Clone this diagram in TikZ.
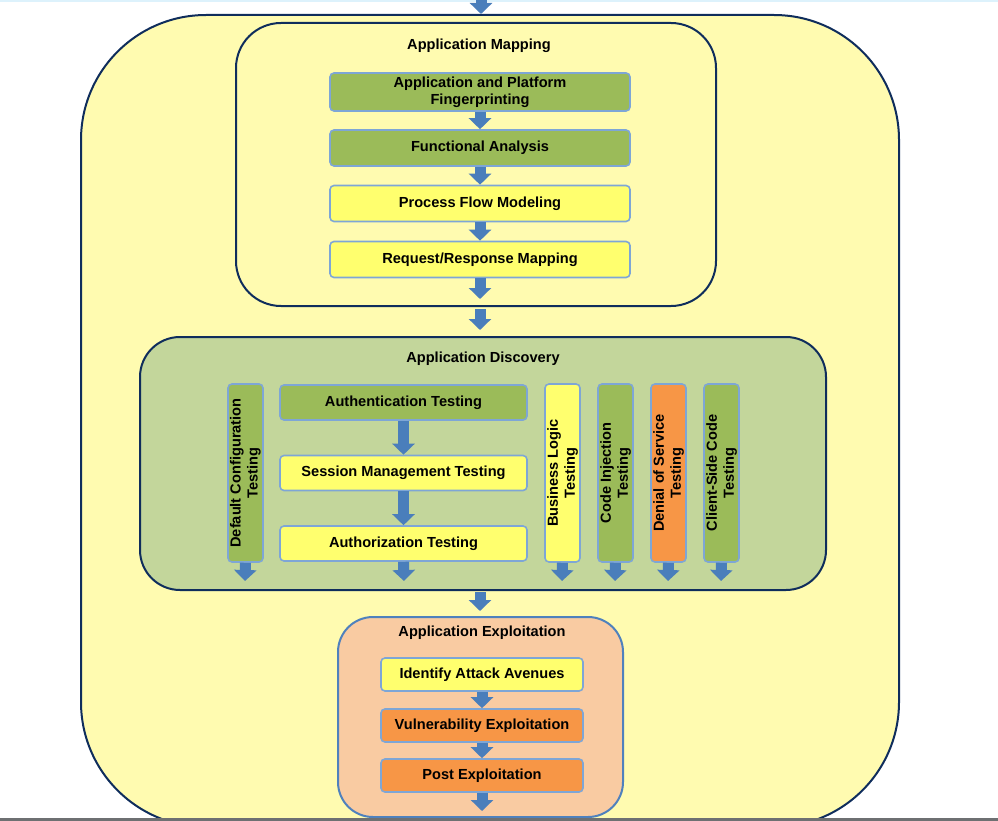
\documentclass[tikz,border=0pt]{standalone}
\usepackage{fontspec}
\setmainfont{Liberation Sans}
\usetikzlibrary{arrows.meta}
\definecolor{outerfill}{HTML}{FFFBB0}
\definecolor{navy}{HTML}{0F2D5C}
\definecolor{gbox}{HTML}{9BBB59}
\definecolor{ybox}{HTML}{FFFF6E}
\definecolor{obox}{HTML}{F79646}
\definecolor{discfill}{HTML}{C3D69B}
\definecolor{explfill}{HTML}{F9CBA2}
\definecolor{explborder}{HTML}{4F81BD}
\definecolor{boxborder}{HTML}{7EA6D6}
\definecolor{arrowblue}{HTML}{4A7EBB}
\definecolor{topline}{HTML}{DDF2FC}
\definecolor{bottombar}{HTML}{6E7072}
\begin{document}
\begin{tikzpicture}[x=1pt,y=-1pt,
  txt/.style={font=\fontsize{14.6}{17}\selectfont\bfseries},
  basebox/.style={txt, draw=boxborder, line width=1.6pt, rounded corners=4pt, align=center, inner sep=0pt},
  greenbox/.style={basebox, fill=gbox},
  yellowbox/.style={basebox, fill=ybox},
  orangebox/.style={basebox, fill=obox},
  hbox/.style={minimum width=#1, minimum height=36pt},
  vbox/.style={minimum width=178pt, minimum height=35pt, rotate=90},
  container/.style={draw=navy, line width=2pt},
  flow/.style={draw=arrowblue, line width=11pt, -{Triangle[width=22pt,length=11pt]}},
  titletext/.style={txt, inner sep=0pt}
]
\useasboundingbox (0,0) rectangle (998,821);
\fill[topline] (0,0) rectangle (998,2);

% outer container
\node[container, fill=outerfill, rounded corners=125pt, minimum width=818pt, minimum height=812pt, inner sep=0pt] (outer) at (490,421) {};

% Application Mapping
\node[container, fill=outerfill, rounded corners=45pt, minimum width=480pt, minimum height=283pt, inner sep=0pt] (map) at (476,164.5) {};
\node[titletext] (maptitle) at (479,46) {Application Mapping};
\node[greenbox, hbox=300pt, minimum height=38pt] (m1) at (480,92) {Application and Platform\\Fingerprinting};
\node[greenbox, hbox=300pt] (m2) at (480,148) {Functional Analysis};
\node[yellowbox, hbox=300pt] (m3) at (480,203.5) {Process Flow Modeling};
\node[yellowbox, hbox=300pt] (m4) at (480,259.5) {Request/Response Mapping};

% Application Discovery
\node[container, fill=discfill, rounded corners=40pt, minimum width=686pt, minimum height=253pt, inner sep=0pt] (disc) at (483,463.5) {};
\node[titletext] (disctitle) at (483,359) {Application Discovery};
\node[greenbox, vbox] (d1) at (245.5,473) {Default Configuration\\Testing};
\node[greenbox, hbox=247pt, minimum height=35pt] (a1) at (403.5,402.5) {Authentication Testing};
\node[yellowbox, hbox=247pt, minimum height=35pt] (a2) at (403.5,473) {Session Management Testing};
\node[yellowbox, hbox=247pt, minimum height=35pt] (a3) at (403.5,543.5) {Authorization Testing};
\node[yellowbox, vbox] (d2) at (562.5,473) {Business Logic\\Testing};
\node[greenbox, vbox] (d3) at (615.5,473) {Code Injection\\Testing};
\node[orangebox, vbox] (d4) at (668.5,473) {Denial of Service\\Testing};
\node[greenbox, vbox] (d5) at (721.5,473) {Client-Side Code\\Testing};

% Application Exploitation
\node[draw=explborder, line width=2pt, fill=explfill, rounded corners=35pt, minimum width=285pt, minimum height=200pt, inner sep=0pt] (expl) at (480.5,717) {};
\node[titletext] (expltitle) at (482,633) {Application Exploitation};
\node[yellowbox, hbox=202pt, minimum height=33pt] (e1) at (482,674.5) {Identify Attack Avenues};
\node[orangebox, hbox=202pt, minimum height=33pt] (e2) at (482,725.5) {Vulnerability Exploitation};
\node[orangebox, hbox=202pt, minimum height=33pt] (e3) at (482,775.5) {Post Exploitation};

% free ends
\coordinate (topin) at (481,0);
\coordinate (m4end) at (480,299);
\coordinate (mapout) at (480,309);
\coordinate (discin) at (480,330);
\coordinate (discout) at (480,592);
\coordinate (explin) at (480,611);
\coordinate (d1end) at (245,581);
\coordinate (a3end) at (404,581);
\coordinate (d2end) at (562,581);
\coordinate (d3end) at (615,581);
\coordinate (d4end) at (668,581);
\coordinate (d5end) at (721,581);
\coordinate (e3end) at (482,811);

% connectors
\draw[flow] (topin) -- (topin |- outer.north);
\draw[flow] (m1) -- (m2);
\draw[flow] (m2) -- (m3);
\draw[flow] (m3) -- (m4);
\draw[flow] (m4.south) -- (m4end);
\draw[flow] (mapout) -- (discin);
\draw[flow] (a1) -- (a2);
\draw[flow] (a2) -- (a3);
\draw[flow] (d1.west) -- (d1end);
\draw[flow] (a3.south) -- (a3end);
\draw[flow] (d2.west) -- (d2end);
\draw[flow] (d3.west) -- (d3end);
\draw[flow] (d4.west) -- (d4end);
\draw[flow] (d5.west) -- (d5end);
\draw[flow] (discout) -- (explin);
\draw[flow] (e1) -- (e2);
\draw[flow] (e2) -- (e3);
\draw[flow] (e3.south) -- (e3end);

\fill[bottombar] (0,818) rectangle (998,821);
\end{tikzpicture}
\end{document}
